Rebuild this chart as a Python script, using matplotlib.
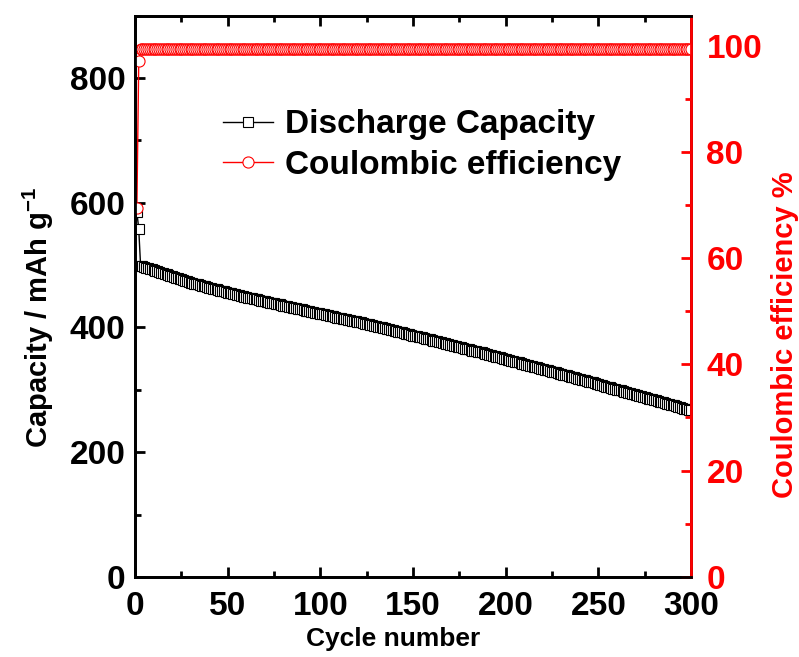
import matplotlib
matplotlib.use("Agg")
import matplotlib.pyplot as plt
from matplotlib.ticker import MultipleLocator

plt.rcParams['font.family'] = ['Liberation Sans', 'DejaVu Sans']
plt.rcParams['font.weight'] = 'bold'
plt.rcParams['mathtext.fontset'] = 'custom'
plt.rcParams['mathtext.bf'] = 'Liberation Sans:bold'
plt.rcParams['mathtext.rm'] = 'Liberation Sans:bold'

capacity = [
    585, 558, 499, 498, 497, 496, 495, 494, 493, 492,
    491, 490, 489, 488, 487, 486, 485, 484, 483, 482,
    481, 480, 479, 478, 477, 476, 475, 474, 473, 472,
    471, 470, 470, 469, 468, 467, 466, 466, 465, 464,
    463, 462, 462, 461, 460, 459, 458, 458, 457, 456,
    455, 455, 454, 453, 452, 452, 451, 450, 449, 449,
    448, 447, 447, 446, 445, 445, 444, 443, 443, 442,
    441, 441, 440, 439, 439, 438, 437, 437, 436, 435,
    435, 434, 433, 433, 432, 431, 431, 430, 429, 429,
    428, 427, 427, 426, 425, 425, 424, 423, 423, 422,
    421, 421, 420, 420, 419, 418, 418, 417, 416, 416,
    415, 414, 414, 413, 412, 412, 411, 410, 410, 409,
    408, 408, 407, 406, 406, 405, 404, 404, 403, 402,
    401, 401, 400, 399, 399, 398, 397, 396, 396, 395,
    394, 393, 393, 392, 391, 390, 390, 389, 388, 387,
    387, 386, 385, 384, 384, 383, 382, 381, 381, 380,
    379, 378, 378, 377, 376, 375, 375, 374, 373, 372,
    372, 371, 370, 369, 369, 368, 367, 366, 366, 365,
    364, 363, 363, 362, 361, 360, 360, 359, 358, 357,
    356, 356, 355, 354, 353, 352, 352, 351, 350, 349,
    348, 348, 347, 346, 345, 344, 344, 343, 342, 341,
    340, 340, 339, 338, 337, 336, 336, 335, 334, 333,
    332, 332, 331, 330, 329, 328, 328, 327, 326, 325,
    324, 324, 323, 322, 321, 320, 320, 319, 318, 317,
    316, 316, 315, 314, 313, 312, 312, 311, 310, 309,
    308, 307, 306, 305, 305, 304, 303, 302, 301, 300,
    300, 299, 298, 297, 296, 295, 295, 294, 293, 292,
    291, 290, 290, 289, 288, 287, 286, 285, 285, 284,
    283, 282, 281, 280, 280, 279, 278, 277, 276, 275,
    275, 274, 273, 272, 271, 270, 270, 269, 268, 267,
]
cycles = list(range(1, len(capacity) + 1))

ce_start = [69.5, 97.0]
ce_steady_value = 99.4
efficiency = ce_start + [ce_steady_value] * (len(capacity) - len(ce_start))

x_ticks = [0, 50, 100, 150, 200, 250, 300]
cap_ticks = [0, 200, 400, 600, 800]
ce_ticks = [0, 20, 40, 60, 80, 100]

fig = plt.figure(figsize=(7.99, 6.57), dpi=100)
ax = fig.add_axes([0.169, 0.122, 0.696, 0.854])
ax2 = ax.twinx()

l1, = ax.plot(cycles, capacity, '-', color='black', lw=1.0, marker='s',
              markersize=7.5, markerfacecolor='white', markeredgecolor='black',
              markeredgewidth=0.8, label='Discharge Capacity')
l2, = ax2.plot(cycles, efficiency, '-', color='red', lw=1.0, marker='o',
               markersize=8, markerfacecolor='white', markeredgecolor='red',
               markeredgewidth=0.8, label='Coulombic efficiency')

ax.set_xlim(0, 300)
ax.set_ylim(0, 900)
ax2.set_ylim(0, 105.6)

ax.set_xticks(x_ticks)
ax.set_yticks(cap_ticks)
ax2.set_yticks(ce_ticks)
ax.xaxis.set_minor_locator(MultipleLocator(25))
ax.yaxis.set_minor_locator(MultipleLocator(100))
ax2.yaxis.set_minor_locator(MultipleLocator(10))

for a in (ax, ax2):
    for s in a.spines.values():
        s.set_linewidth(2.0)
ax2.spines['right'].set_color('red')

ax.tick_params(axis='both', which='major', direction='in', length=7, width=2,
               labelsize=24, top=True, right=False)
ax.tick_params(axis='both', which='minor', direction='in', length=4, width=2,
               top=True, right=False)
ax.tick_params(axis='x', pad=10)
ax.tick_params(axis='y', pad=7)
ax2.tick_params(axis='y', which='major', direction='in', length=7, width=2,
                labelsize=24, colors='red', pad=11)
ax2.tick_params(axis='y', which='minor', direction='in', length=4, width=2,
                colors='red')

ax.set_xlabel('Cycle number', fontsize=19, fontweight='bold')
ax.xaxis.set_label_coords(0.464, -0.089)
ax.set_ylabel('Capacity / mAh g$^{\\mathbf{-1}}$', fontsize=21, fontweight='bold')
ax.yaxis.set_label_coords(-0.143, 0.462)
ax2.set_ylabel('Coulombic efficiency %', fontsize=21, fontweight='bold', color='red')
ax2.yaxis.set_label_coords(1.144, 0.431)

leg = ax2.legend(handles=[l1, l2], loc='upper left', bbox_to_anchor=(0.135, 0.857),
                 frameon=False, fontsize=24, handlelength=1.5, handletextpad=0.35,
                 labelspacing=0.28, markerscale=1.0, borderaxespad=0.0)
for t in leg.get_texts():
    t.set_fontweight('bold')

fig.savefig('out.png', dpi=100)
